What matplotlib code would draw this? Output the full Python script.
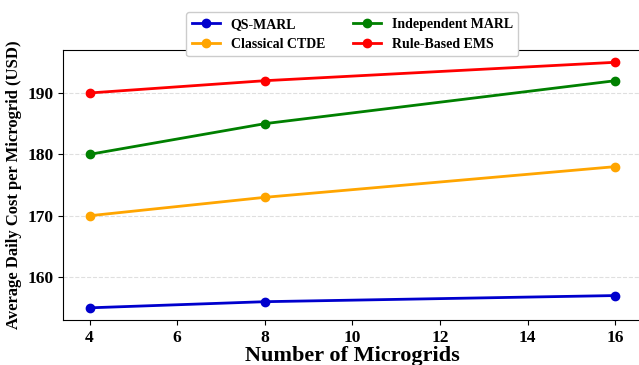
import matplotlib.pyplot as plt

plt.rcParams['font.family'] = ['Liberation Serif', 'DejaVu Serif']
plt.rcParams['font.weight'] = 'bold'

microgrids = [4, 8, 16]
qs_marl = [155, 156, 157]
classical_ctde = [170, 173, 178]
independent_marl = [180, 185, 192]
rule_based = [190, 192, 195]

fig = plt.figure(figsize=(6.39, 3.65), dpi=100)
ax = fig.add_axes([0.099, 0.123, 0.905, 0.74])

ax.plot(microgrids, qs_marl, marker='o', color='mediumblue', lw=2, ms=6, label='QS-MARL')
ax.plot(microgrids, classical_ctde, marker='o', color='orange', lw=2, ms=6, label='Classical CTDE')
ax.plot(microgrids, independent_marl, marker='o', color='green', lw=2, ms=6, label='Independent MARL')
ax.plot(microgrids, rule_based, marker='o', color='red', lw=2, ms=6, label='Rule-Based EMS')

ax.set_xlabel('Number of Microgrids', fontsize=16, fontweight='bold', labelpad=0)
ax.set_ylabel('Average Daily Cost per Microgrid (USD)', fontsize=12, fontweight='bold')
ax.set_yticks([160, 170, 180, 190])
ax.tick_params(labelsize=12.5)
for lbl in ax.get_xticklabels() + ax.get_yticklabels():
    lbl.set_fontweight('bold')
ax.grid(axis='y', linestyle='--', alpha=0.4)

ax.legend(loc='upper center', bbox_to_anchor=(0.5, 1.165), ncol=2,
          prop={'weight': 'bold', 'size': 10}, framealpha=1)

plt.savefig('out.png')
